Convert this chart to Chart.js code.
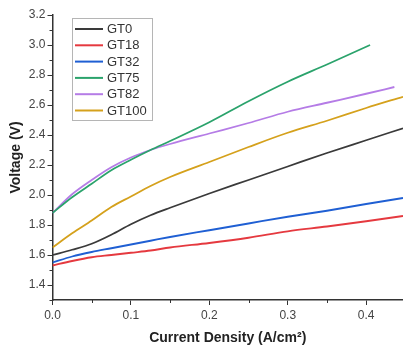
<!DOCTYPE html>
<html>
<head>
<meta charset="utf-8">
<script src="https://cdn.jsdelivr.net/npm/chart.js@4"></script>
<style>
    html, body { margin: 0; padding: 0; background: #fff; }
    #wrap { width: 403px; height: 349px; position: relative; }
</style>
</head>
<body>
<div id="wrap"><canvas id="polChart"></canvas></div>
<script>
// Polarization curves
const currentDensity = [0, 0.025, 0.05, 0.075, 0.1, 0.125, 0.15, 0.2, 0.25, 0.3, 0.35, 0.4, 0.447];
const gt75Current = [0, 0.025, 0.05, 0.075, 0.1, 0.125, 0.15, 0.2, 0.25, 0.3, 0.35, 0.405];
const gt82Current = [0, 0.025, 0.05, 0.075, 0.1, 0.125, 0.15, 0.2, 0.25, 0.3, 0.35, 0.4, 0.436];

const gt0 = [1.60, 1.635, 1.675, 1.735, 1.805, 1.865, 1.915, 2.01, 2.10, 2.19, 2.28, 2.365, 2.445];
const gt18 = [1.53, 1.56, 1.585, 1.60, 1.615, 1.63, 1.65, 1.68, 1.715, 1.758, 1.79, 1.825, 1.86];
const gt32 = [1.55, 1.59, 1.62, 1.645, 1.67, 1.695, 1.72, 1.765, 1.81, 1.855, 1.895, 1.94, 1.98];
const gt75 = [1.88, 1.985, 2.075, 2.165, 2.235, 2.30, 2.36, 2.485, 2.625, 2.755, 2.87, 3.00];
const gt82 = [1.88, 2.005, 2.10, 2.185, 2.25, 2.30, 2.34, 2.41, 2.48, 2.555, 2.615, 2.675, 2.72];
const gt100 = [1.65, 1.745, 1.83, 1.92, 1.99, 2.06, 2.12, 2.22, 2.32, 2.415, 2.495, 2.58, 2.655];

const yTicks = [1.4, 1.6, 1.8, 2.0, 2.2, 2.4, 2.6, 2.8, 3.0, 3.2];
const yMinor = [1.3, 1.5, 1.7, 1.9, 2.1, 2.3, 2.5, 2.7, 2.9, 3.1];
const xTicks = [0, 0.1, 0.2, 0.3, 0.4];
const xMinor = [0.05, 0.15, 0.25, 0.35];

const FONT = '"Liberation Sans", Arial, sans-serif';

function pts(xs, ys) {
    return ys.map((y, i) => ({ x: xs[i], y: y }));
}

function line(label, xs, ys, color) {
    return {
        label: label,
        data: pts(xs, ys),
        borderColor: color,
        backgroundColor: color,
        borderWidth: 1.8,
        pointRadius: 0,
        cubicInterpolationMode: 'monotone',
        fill: false
    };
}

// short minor ticks + boxed legend inside the plot
const extrasPlugin = {
    id: 'extras',
    afterDraw(chart) {
        const ctx = chart.ctx;
        const xs = chart.scales.x, ys = chart.scales.y;
        const area = chart.chartArea;
        ctx.save();
        ctx.strokeStyle = '#333';
        ctx.lineWidth = 1;
        yMinor.forEach(v => {
            const py = Math.round(ys.getPixelForValue(v)) + 0.5;
            ctx.beginPath();
            ctx.moveTo(area.left - 3, py);
            ctx.lineTo(area.left, py);
            ctx.stroke();
        });
        xMinor.forEach(v => {
            const px = Math.round(xs.getPixelForValue(v)) + 0.5;
            ctx.beginPath();
            ctx.moveTo(px, area.bottom);
            ctx.lineTo(px, area.bottom + 3);
            ctx.stroke();
        });

        // legend
        const bx = 72.5, by = 18.5, bw = 80, bh = 102;
        ctx.strokeStyle = '#b5b5b5';
        ctx.strokeRect(bx, by, bw, bh);
        ctx.font = '13px ' + FONT;
        ctx.textBaseline = 'middle';
        ctx.fillStyle = '#333';
        chart.data.datasets.forEach((ds, i) => {
            const ry = 29 + i * 16.3;
            ctx.strokeStyle = ds.borderColor;
            ctx.lineWidth = 2;
            ctx.beginPath();
            ctx.moveTo(75, ry);
            ctx.lineTo(103, ry);
            ctx.stroke();
            ctx.fillText(ds.label, 107, ry + 0.5);
        });
        ctx.restore();
    }
};

new Chart(document.getElementById('polChart').getContext('2d'), {
    type: 'line',
    data: {
        datasets: [
            line('GT0', currentDensity, gt0, '#3a3a3a'),
            line('GT18', currentDensity, gt18, '#e5393f'),
            line('GT32', currentDensity, gt32, '#1f5fd3'),
            line('GT75', gt75Current, gt75, '#2ba36c'),
            line('GT82', gt82Current, gt82, '#b57ce6'),
            line('GT100', currentDensity, gt100, '#d5a11c')
        ]
    },
    options: {
        responsive: true,
        maintainAspectRatio: false,
        animation: false,
        layout: { padding: { top: 15, right: 0, bottom: 0, left: 0 } },
        plugins: { legend: { display: false }, tooltip: { enabled: false } },
        scales: {
            x: {
                type: 'linear',
                min: 0,
                max: 0.447,
                afterBuildTicks: s => { s.ticks = xTicks.map(v => ({ value: v })); },
                afterFit: s => { s.height = 49; },
                ticks: {
                    padding: 3,
                    color: '#444',
                    font: { family: FONT, size: 12 },
                    maxRotation: 0,
                    callback: v => Number(v).toFixed(1)
                },
                grid: { drawOnChartArea: false, tickLength: 5, color: '#333', lineWidth: 1 },
                border: { color: '#333', width: 1.5 },
                title: {
                    display: true,
                    text: 'Current Density (A/cm²)',
                    color: '#222',
                    font: { family: FONT, size: 14, weight: 'bold' },
                    padding: { top: 0, bottom: 2 }
                }
            },
            y: {
                min: 1.3,
                max: 3.2,
                afterBuildTicks: s => { s.ticks = yTicks.map(v => ({ value: v })); },
                afterFit: s => { s.width = 52.5; },
                ticks: {
                    padding: 2,
                    color: '#444',
                    font: { family: FONT, size: 12 },
                    callback: v => Number(v).toFixed(1)
                },
                grid: { drawOnChartArea: false, tickLength: 5, color: '#333', lineWidth: 1 },
                border: { color: '#333', width: 1.5 },
                title: {
                    display: true,
                    text: 'Voltage (V)',
                    color: '#222',
                    font: { family: FONT, size: 14, weight: 'bold' },
                    padding: { top: 8, bottom: 0 }
                }
            }
        }
    },
    plugins: [extrasPlugin]
});
</script>
</body>
</html>
